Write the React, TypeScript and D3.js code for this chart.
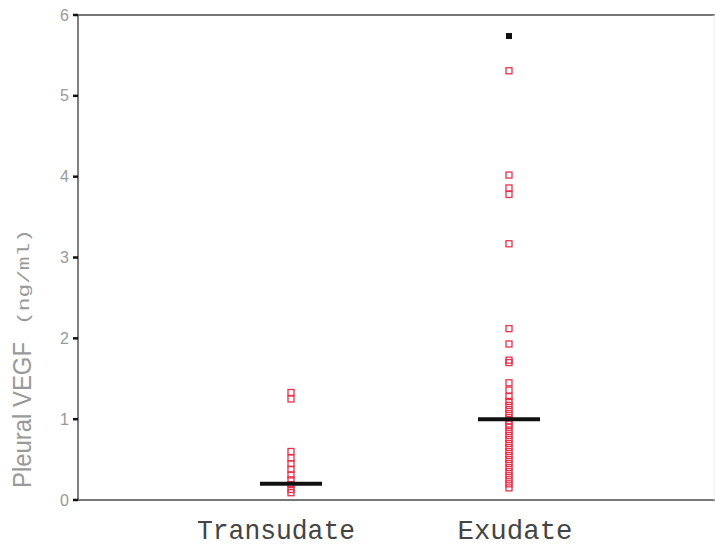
import React from "react";
import * as d3 from "d3";

const categories = ["Transudate", "Exudate"];
const transudateValues = [1.33, 1.25, 0.6, 0.52, 0.45, 0.38, 0.31, 0.25, 0.19, 0.13, 0.09];
const exudateValues = [
  5.31, 4.02, 3.86, 3.78, 3.17, 2.12, 1.93, 1.73, 1.7, 1.45, 1.36, 1.28, 1.22, 1.17, 1.12,
  1.07, 1.02, 0.98, 0.94, 0.9, 0.85, 0.8, 0.75, 0.7, 0.65, 0.6, 0.55, 0.5, 0.45, 0.4, 0.35,
  0.3, 0.25, 0.2, 0.15,
];
const exudateOutlier = [5.74];
const medians = [0.2, 1.0];
const yTicks = [0, 1, 2, 3, 4, 5, 6];

const W = 715;
const H = 548;
const left = 78;
const top = 15;
const bottom = 500;

export default function App() {
  const y = d3.scaleLinear().domain([0, 6]).range([bottom, top]);
  const x = d3.scalePoint<string>().domain(categories).range([291, 509]);
  const labelShift = [-15, 6];
  const labelLen = [158, 115];
  const series = [transudateValues, exudateValues];
  const sq = 6;

  return (
    <svg
      width={W}
      height={H}
      style={{ position: "absolute", left: 0, top: 0, background: "#fff" }}
    >
      {/* frame */}
      <line x1={left} x2={W} y1={top} y2={top} stroke="#777" strokeWidth={2} />
      <line x1={left} x2={W} y1={bottom} y2={bottom} stroke="#777" strokeWidth={2} />
      <line x1={left} x2={left} y1={top} y2={bottom} stroke="#555" strokeWidth={1.5} />
      <line x1={W - 1} x2={W - 1} y1={top} y2={bottom} stroke="#eee" strokeWidth={1} />

      {/* y ticks */}
      {yTicks.map((t) => (
        <g key={t}>
          <line x1={left - 5} x2={left} y1={y(t)} y2={y(t)} stroke="#111" strokeWidth={2.5} />
          <text
            x={left - 9}
            y={y(t)}
            dy="0.35em"
            textAnchor="end"
            fontFamily="Liberation Sans, Arial, sans-serif"
            fontSize={16}
            fill="#999"
          >
            {t}
          </text>
        </g>
      ))}

      {/* y axis title */}
      <g transform={`translate(31, 0) rotate(-90)`}>
        <text
          x={-488}
          y={0}
          textAnchor="start"
          fill="#999"
          fontFamily="Liberation Sans, Arial, sans-serif"
          fontSize={25}
          textLength={146}
          lengthAdjust="spacingAndGlyphs"
        >
          Pleural VEGF
        </text>
        <text
          x={-325}
          y={-2}
          textAnchor="start"
          fill="#999"
          fontFamily="Liberation Mono, monospace"
          fontSize={17}
          textLength={96}
          lengthAdjust="spacingAndGlyphs"
        >
          (ng/ml)
        </text>
      </g>

      {/* points */}
      {series.map((vals, i) =>
        vals.map((v, j) => (
          <rect
            key={`${i}-${j}`}
            x={(x(categories[i]) as number) - sq / 2}
            y={y(v) - sq / 2}
            width={sq}
            height={sq}
            fill="none"
            stroke="#e8314a"
            strokeWidth={1.3}
          />
        ))
      )}
      {exudateOutlier.map((v, j) => (
        <rect
          key={`o-${j}`}
          x={(x("Exudate") as number) - 3}
          y={y(v) - 3}
          width={6}
          height={6}
          fill="#111"
        />
      ))}

      {/* medians */}
      {medians.map((m, i) => (
        <line
          key={`m-${i}`}
          x1={(x(categories[i]) as number) - 31}
          x2={(x(categories[i]) as number) + 31}
          y1={y(m)}
          y2={y(m)}
          stroke="#111"
          strokeWidth={4}
        />
      ))}

      {/* x labels */}
      {categories.map((c, i) => (
        <text
          key={c}
          x={(x(c) as number) + labelShift[i] - labelLen[i] / 2}
          y={539}
          textAnchor="start"
          fontFamily="Liberation Mono, monospace"
          fontSize={28}
          fill="#444"
          textLength={labelLen[i]}
          lengthAdjust="spacingAndGlyphs"
        >
          {c}
        </text>
      ))}
    </svg>
  );
}
